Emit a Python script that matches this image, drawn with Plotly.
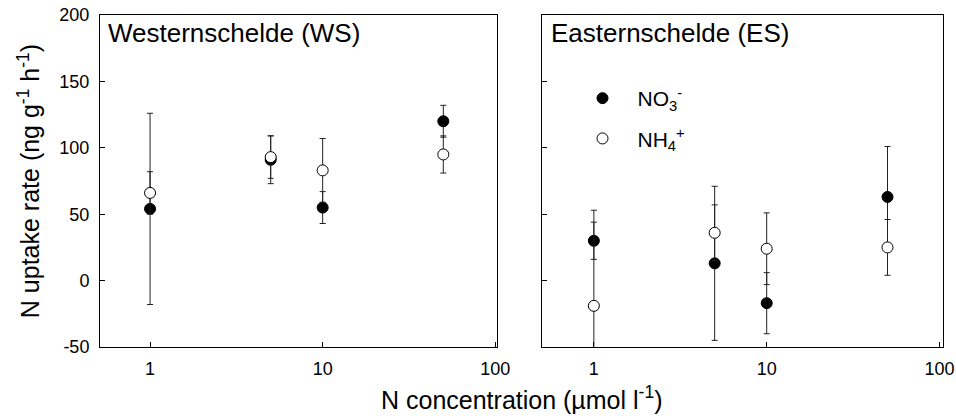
import plotly.graph_objects as go

# ---- data ----
conc = [1, 5, 10, 50]
tick_vals = [1, 10, 100]
tick_text = ["1", "10", "100"]
y_ticks = [-50, 0, 50, 100, 150, 200]
y_tick_text = ["-50", "0", "50", "100", "150", "200"]

ws_no3 = [54, 91, 55, 120]
ws_no3_err = [72, 18, 12, 12]
ws_nh4 = [66, 93, 83, 95]
ws_nh4_err = [16, 16, 24, 14]

es_no3 = [30, 13, -17, 63]
es_no3_err = [14, 58, 23, 38]
es_nh4 = [-19, 36, 24, 25]
es_nh4_err = [72, 21, 27, 21]

panel_titles = ["Westernschelde (WS)", "Easternschelde (ES)"]
name_no3 = "NO<sub>3</sub><sup>-</sup>"
name_nh4 = "NH<sub>4</sub><sup>+</sup>"

FONT = "Liberation Sans, Arial, sans-serif"

fig = go.Figure()

def add(x, y, err, filled, xa, ya, name, show, group):
    fig.add_trace(go.Scatter(
        x=x, y=y, mode="markers", name=name, showlegend=show, legendgroup=group,
        xaxis=xa, yaxis=ya,
        marker=dict(size=11, color="black" if filled else "white",
                    line=dict(color="black", width=1), symbol="circle"),
        error_y=dict(type="data", array=err, visible=True, color="#222222",
                     thickness=1, width=3),
        cliponaxis=True,
    ))

add(conc, ws_no3, ws_no3_err, True, "x", "y", name_no3, False, "a")
add(conc, ws_nh4, ws_nh4_err, False, "x", "y", name_nh4, False, "b")
add(conc, es_no3, es_no3_err, True, "x2", "y2", name_no3, True, "a")
add(conc, es_nh4, es_nh4_err, False, "x2", "y2", name_nh4, True, "b")

W, H = 956, 416
PL, PR, PT, PB = 100, 943, 15, 347   # plot box in pixels
L, T, R, B = PL, PT, W - PR, H - PB
pw = PR - PL
ph = PB - PT
x1_dom = [0, (497 - PL) / pw]
x2_dom = [(542 - PL) / pw, 1]

xax = dict(type="log", tickvals=tick_vals, ticktext=tick_text, ticks="inside",
           ticklen=5, tickwidth=1, tickcolor="black", showline=True, linecolor="black",
           linewidth=1, mirror=True, showgrid=False, zeroline=False, automargin=False,
           tickfont=dict(family=FONT, size=18, color="black"), ticklabelstandoff=5)
yax = dict(range=[-50, 200], tickvals=y_ticks, ticktext=y_tick_text, ticks="inside",
           ticklen=5, tickwidth=1, tickcolor="black", showline=True, linecolor="black",
           linewidth=1, mirror=True, showgrid=False, zeroline=False, automargin=False,
           tickfont=dict(family=FONT, size=18, color="black"), ticklabelstandoff=6)

fig.update_layout(
    width=W, height=H,
    margin=dict(l=L, r=R, t=T, b=B),
    paper_bgcolor="white", plot_bgcolor="white",
    font=dict(family=FONT, color="black"),
    xaxis=dict(xax, domain=x1_dom, range=[-0.29, 2.01]),
    xaxis2=dict(xax, domain=x2_dom, range=[-0.30, 2.02], anchor="y2"),
    yaxis=dict(yax, domain=[0, 1],
               title=dict(text="N uptake rate (ng g<sup>-1</sup> h<sup>-1</sup>)",
                          font=dict(family=FONT, size=25, color="black"), standoff=12)),
    yaxis2=dict(yax, domain=[0, 1], anchor="x2", showticklabels=False),
    showlegend=True,
    legend=dict(x=(567.5 - PL) / pw, y=(PB - 78) / ph, xanchor="left", yanchor="top",
                bgcolor="rgba(0,0,0,0)", font=dict(family=FONT, size=21, color="black"),
                itemwidth=60, tracegroupgap=10, traceorder="grouped"),
    annotations=[
        dict(text=panel_titles[0], xref="x domain", yref="paper", x=0.015, y=(PB - 33) / ph,
             xanchor="left", yanchor="middle", showarrow=False,
             font=dict(family=FONT, size=26, color="black")),
        dict(text=panel_titles[1], xref="x2 domain", yref="paper", x=0.017, y=(PB - 33) / ph,
             xanchor="left", yanchor="middle", showarrow=False,
             font=dict(family=FONT, size=26, color="black")),
        dict(text="N concentration (µmol l<sup>-1</sup>)", xref="paper", yref="paper",
             x=(521 - PL) / pw, y=-(398 - PB) / ph, xanchor="center", yanchor="middle",
             showarrow=False, font=dict(family=FONT, size=25, color="black")),
    ],
)

fig.write_html("out.html", config={"displayModeBar": False},
               post_script="document.body.style.margin='0';")
